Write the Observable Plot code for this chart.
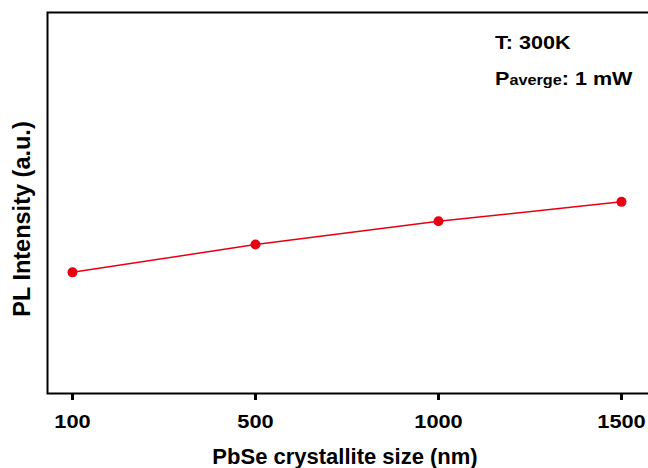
<!DOCTYPE html>
<html>
<head>
<meta charset="utf-8">
<script src="https://cdn.jsdelivr.net/npm/d3@7"></script>
<script src="https://cdn.jsdelivr.net/npm/@observablehq/plot@0.6"></script>
<style>
  html, body { margin: 0; padding: 0; background: #fff; overflow: hidden; }
  #chart svg { display: block; overflow: hidden; }
  #chart svg text { font-family: "Liberation Sans", Arial, sans-serif; font-weight: bold; fill: #000; }
</style>
</head>
<body>
<div id="chart"></div>
<script>
// Data
const sizes = ["100", "500", "1000", "1500"];          // PbSe crystallite size (nm), tick labels
const intensity = [31.8, 39.1, 45.2, 50.3];           // PL intensity (a.u., arbitrary scale 0-100)
const xLabel = "PbSe crystallite size (nm)";
const yLabel = "PL Intensity (a.u.)";
const noteTemp = "T: 300K";
const notePower = ["P", "averge", ": 1 mW"];

const data = sizes.map((s, i) => ({size: s, value: intensity[i]}));
const red = "#e60012";
const stretch = 1.16; // glyphs in the reference are slightly wide

const plot = Plot.plot({
  width: 648,
  height: 468,
  marginLeft: 47,
  marginRight: -2,
  marginTop: 12,
  marginBottom: 75,
  style: {background: "#fff", color: "#000"},
  x: {type: "point", domain: sizes, padding: 0.1416, align: 0.46, label: null},
  y: {domain: [0, 100], axis: null},
  marks: [
    Plot.frame({stroke: "#000", strokeWidth: 2}),
    Plot.axisX({tickSize: 7, strokeWidth: 3, tickPadding: 14, fontSize: 18.8, fontWeight: "bold", label: null}),
    Plot.line(data, {x: "size", y: "value", stroke: red, strokeWidth: 1.5}),
    Plot.dot(data, {x: "size", y: "value", r: 5, fill: red, stroke: "none"})
  ]
});

document.getElementById("chart").appendChild(plot);

const svg = d3.select(plot);
svg.attr("text-anchor", null);

// widen tick labels like the reference
svg.selectAll('g[aria-label="x-axis tick label"] text').each(function () {
  const t = d3.select(this);
  const tr = t.attr("transform") || "";
  t.attr("transform", tr + ` scale(${stretch},1)`).attr("text-anchor", "middle");
});

// x-axis title
svg.append("text")
  .attr("transform", "translate(345,463.5)")
  .attr("text-anchor", "middle")
  .style("font-size", "22px")
  .text(xLabel);
// y-axis title
svg.append("text")
  .attr("transform", "translate(29.5,219) rotate(-90)")
  .attr("text-anchor", "middle")
  .style("font-size", "23.5px")
  .text(yLabel);
// annotations
svg.append("text")
  .attr("transform", `translate(495,48.5) scale(${stretch},1)`)
  .attr("text-anchor", "start")
  .style("font-size", "18.6px")
  .text(noteTemp);
const t2 = svg.append("text")
  .attr("transform", `translate(495,84.5) scale(${stretch},1)`)
  .attr("text-anchor", "start")
  .style("font-size", "18.6px");
t2.append("tspan").text(notePower[0]);
t2.append("tspan").style("font-size", "14px").text(notePower[1]);
t2.append("tspan").text(notePower[2]);
</script>
</body>
</html>
